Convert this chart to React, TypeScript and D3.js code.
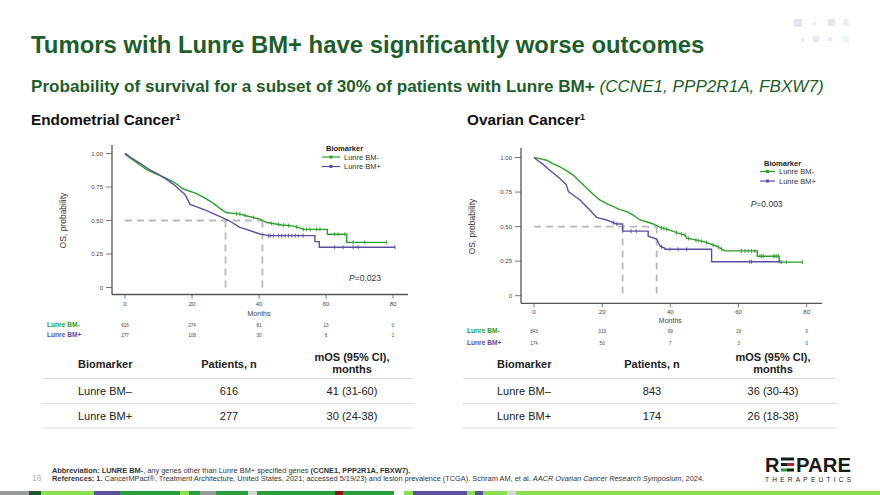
import React from "react";
import * as d3 from "d3";

// ---------- data ----------
const MONTH_TICKS = [0, 20, 40, 60, 80];
const PROB_TICKS = [0, 0.25, 0.5, 0.75, 1];
const PROB_LABELS = ["0", "0.25", "0.50", "0.75", "1.00"];
const SERIES_NAMES = ["Lunre BM-", "Lunre BM+"];

// Endometrial KM points [month, survival]
const endoMinus: [number, number][] = [
  [0, 1.0], [0.5, 0.985], [3, 0.94], [6.5, 0.88], [9, 0.85], [12.4, 0.815], [15, 0.78],
  [17.4, 0.735], [21.4, 0.7], [24, 0.665], [26.4, 0.628], [28.4, 0.59], [30.3, 0.558],
  [32, 0.555], [34.3, 0.548], [37, 0.53], [40.3, 0.51], [42.3, 0.485], [46.8, 0.466],
  [50, 0.46], [51.7, 0.449], [53.2, 0.434], [60.4, 0.434], [60.4, 0.397], [66.2, 0.397],
  [66.2, 0.337], [78.1, 0.337],
];
const endoPlus: [number, number][] = [
  [0, 1.0], [0.4, 0.995], [2, 0.965], [4.5, 0.927], [7.5, 0.877], [10, 0.845], [12.4, 0.807],
  [14.5, 0.77], [16.4, 0.728], [18, 0.69], [19.4, 0.62], [21, 0.605], [24.4, 0.573],
  [26.5, 0.55], [28.9, 0.524], [31, 0.5], [34.3, 0.449], [36, 0.435], [38.3, 0.416],
  [40.3, 0.399], [42.8, 0.387], [56.7, 0.387], [56.7, 0.342], [58, 0.342], [58, 0.3],
  [80.6, 0.3],
];
const endoMinusCensor = [33.3, 34.3, 35.8, 38.3, 43.8, 45.8, 47.3, 48.8, 51.2, 53.2, 54.2, 55.2, 57.2, 58.2, 62.6, 63.6, 65.6, 68.1, 71.6, 78.1];
const endoPlusCensor = [42.8, 43.3, 44.3, 45.8, 46.8, 47.8, 48.8, 49.8, 50.8, 51.7, 53.2, 62.6, 65.1, 68.1, 69.6, 80.6];
const endoRiskMinus = [616, 274, 81, 13, 0];
const endoRiskPlus = [277, 108, 30, 6, 1];
const endoMedians = [30, 41];

// Ovarian KM points
const ovaMinus: [number, number][] = [
  [0, 1.0], [2, 0.99], [3.7, 0.98], [5.5, 0.955], [7.6, 0.933], [9.5, 0.905], [11.5, 0.873],
  [13.5, 0.825], [15.5, 0.777], [17.5, 0.73], [19.4, 0.692], [21.5, 0.665], [23.3, 0.644],
  [25, 0.625], [27.2, 0.608], [29, 0.585], [31.1, 0.548], [33, 0.535], [35, 0.519],
  [37, 0.494], [39.9, 0.474], [42, 0.455], [44.3, 0.438], [44.8, 0.416], [47.7, 0.402],
  [50, 0.39], [53.6, 0.358], [56, 0.324], [65.5, 0.324], [65.5, 0.286], [71.9, 0.286],
  [71.9, 0.243], [78.8, 0.243],
];
const ovaPlus: [number, number][] = [
  [0, 1.0], [1, 0.98], [2.7, 0.95], [4, 0.92], [5.7, 0.886], [7, 0.86], [8.6, 0.825],
  [9.5, 0.8], [10.1, 0.753], [12, 0.72], [13.5, 0.692], [15, 0.655], [16.4, 0.62],
  [17.5, 0.59], [18.4, 0.567], [21.3, 0.548], [24.2, 0.519], [26, 0.519], [26, 0.467],
  [33.5, 0.467], [33.5, 0.43], [36, 0.41], [37, 0.358], [38.4, 0.343], [38.4, 0.336],
  [52.1, 0.336], [52.1, 0.246], [72.2, 0.246],
];
const ovaMinusCensor = [37.4, 38.1, 38.9, 41.8, 43.3, 44.3, 45.3, 47.5, 48.2, 49.2, 50.6, 52.6, 54.1, 55, 60.9, 61.9, 62.8, 63.8, 64.8, 66.3, 66.8, 67.3, 70.2, 70.7, 71.2, 71.7, 72.7, 74.1, 78.8];
const ovaPlusCensor = [23.3, 24.3, 28.5, 30, 37.4, 39.9, 42.3, 44.8, 63.3, 63.8, 72.2];
const ovaRiskMinus = [843, 319, 69, 19, 0];
const ovaRiskPlus = [174, 50, 7, 3, 0];
const ovaMedians = [26, 36];

// tables
const TABLE_HEAD = ["Biomarker", "Patients, n", "mOS (95% CI),", "months"];
const endoTable = [["Lunre BM–", "616", "41 (31-60)"], ["Lunre BM+", "277", "30 (24-38)"]];
const ovaTable = [["Lunre BM–", "843", "36 (30-43)"], ["Lunre BM+", "174", "26 (18-38)"]];

// bottom color bar [start, end, color]
const BAR_SEGMENTS: [number, number, string][] = [
  [0, 29, "#9a9a9a"], [29, 41, "#1e5631"], [41, 94, "#8ae04e"], [94, 120, "#5c4f9f"],
  [120, 180, "#2a9d3c"], [180, 189, "#8ae04e"], [189, 200, "#2a9d3c"], [200, 216, "#9a9a9a"],
  [216, 248, "#2a9d3c"], [248, 257, "#d4d4d4"], [257, 335, "#2a9d3c"], [335, 343, "#8e1016"],
  [343, 394, "#2a9d3c"], [404, 413, "#8ae04e"], [413, 467, "#5c4f9f"], [467, 475, "#8ae04e"],
  [475, 483, "#5c4f9f"], [483, 507, "#8ae04e"], [507, 516, "#d4d4d4"], [516, 880, "#8ae04e"],
];

// ---------- style ----------
const FONT = "'Liberation Sans', Arial, Helvetica, sans-serif";
const GREEN = "#2ca02c";
const PURPLE = "#5a4fa2";
const TITLE_GREEN = "#1d5e2b";
const AXIS = "#555";
const DASH = "#b8b8b8";

function survAt(data: [number, number][], t: number) {
  for (let i = data.length - 1; i >= 0; i--) {
    if (data[i][0] <= t) {
      const a = data[i];
      const b = data[i + 1];
      if (!b || b[0] === a[0]) return a[1];
      return a[1] + ((b[1] - a[1]) * (t - a[0])) / (b[0] - a[0]);
    }
  }
  return data[0][1];
}

type KMProps = {
  xr: [number, number];
  yr: [number, number];
  axisX: number;
  axisTop: number;
  axisY: number;
  axisRight: number;
  tickLabelY: number;
  monthsY: number;
  riskY: [number, number];
  riskLabelX: number;
  minus: [number, number][];
  plus: [number, number][];
  minusCensor: number[];
  plusCensor: number[];
  riskMinus: number[];
  riskPlus: number[];
  medians: number[];
  legend: { x: number; y: number; lineW: number };
  pText: string;
  pPos: [number, number];
};

function KM(p: KMProps) {
  const x = d3.scaleLinear().domain([0, 80]).range(p.xr);
  const y = d3.scaleLinear().domain([0, 1]).range(p.yr);
  const line = d3
    .line<[number, number]>()
    .x((d) => x(d[0]))
    .y((d) => y(d[1]));
  const curves = [
    { data: p.minus, cens: p.minusCensor, color: GREEN },
    { data: p.plus, cens: p.plusCensor, color: PURPLE },
  ];
  const medMax = d3.max(p.medians) as number;
  const lg = p.legend;
  return (
    <g fontFamily={FONT}>
      {/* median dashed lines */}
      <line x1={x(0)} x2={x(medMax)} y1={y(0.5)} y2={y(0.5)} stroke={DASH} strokeWidth={1.8} strokeDasharray="7 5" />
      {p.medians.map((m, i) => (
        <line key={i} x1={x(m)} x2={x(m)} y1={y(0.5)} y2={y(0)} stroke={DASH} strokeWidth={1.8} strokeDasharray="7 5" />
      ))}
      {/* axes */}
      <line x1={p.axisX} x2={p.axisX} y1={p.axisTop} y2={p.axisY} stroke={AXIS} strokeWidth={1.3} />
      <line x1={p.axisX} x2={p.axisRight} y1={p.axisY} y2={p.axisY} stroke={AXIS} strokeWidth={1.3} />
      {PROB_TICKS.map((t, i) => (
        <g key={i}>
          <line x1={p.axisX - 6} x2={p.axisX} y1={y(t)} y2={y(t)} stroke={AXIS} strokeWidth={0.8} />
          <text x={p.axisX - 9} y={y(t) + 2} fontSize={6} fill="#444" textAnchor="end">
            {PROB_LABELS[i]}
          </text>
        </g>
      ))}
      {MONTH_TICKS.map((t, i) => (
        <g key={i}>
          <line x1={x(t)} x2={x(t)} y1={p.axisY} y2={p.axisY + 4} stroke={AXIS} strokeWidth={0.8} />
          <text x={x(t)} y={p.tickLabelY} fontSize={6} fill="#444" textAnchor="middle">
            {t}
          </text>
          <text x={x(t)} y={p.riskY[0]} fontSize={4.6} fill="#444" textAnchor="middle">
            {p.riskMinus[i]}
          </text>
          <text x={x(t)} y={p.riskY[1]} fontSize={4.6} fill="#444" textAnchor="middle">
            {p.riskPlus[i]}
          </text>
        </g>
      ))}
      <text x={x(40)} y={p.monthsY} fontSize={7} fill="#444" textAnchor="middle">
        Months
      </text>
      <text x={p.riskLabelX} y={p.riskY[0]} fontSize={6.6} fontWeight="bold" fill={GREEN}>
        {SERIES_NAMES[0]}
      </text>
      <text x={p.riskLabelX} y={p.riskY[1]} fontSize={6.6} fontWeight="bold" fill={PURPLE}>
        {SERIES_NAMES[1]}
      </text>
      <text
        transform={`translate(${p.axisX - 46},${(y(0) + y(1)) / 2}) rotate(-90)`}
        fontSize={8.5}
        fill="#333"
        textAnchor="middle"
      >
        OS, probability
      </text>
      {/* curves */}
      {curves.map((c, i) => (
        <g key={i}>
          <path d={line(c.data) || ""} fill="none" stroke={c.color} strokeWidth={1.4} />
          {c.cens.map((t, j) => (
            <line key={j} x1={x(t)} x2={x(t)} y1={y(survAt(c.data, t)) - 2} y2={y(survAt(c.data, t)) + 2} stroke={c.color} strokeWidth={0.9} />
          ))}
        </g>
      ))}
      {/* legend */}
      <text x={lg.x + 4} y={lg.y} fontSize={7.5} fontWeight="bold" fill="#222">
        Biomarker
      </text>
      {[GREEN, PURPLE].map((col, i) => (
        <g key={i}>
          <line x1={lg.x} x2={lg.x + lg.lineW} y1={lg.y + 6 + i * 9.5} y2={lg.y + 6 + i * 9.5} stroke={col} strokeWidth={1.2} />
          <rect x={lg.x + lg.lineW / 2 - 1.5} y={lg.y + 4.5 + i * 9.5} width={3} height={3} fill={col} />
          <text x={lg.x + lg.lineW + 4} y={lg.y + 8.5 + i * 9.5} fontSize={7.5} fill="#333">
            {SERIES_NAMES[i]}
          </text>
        </g>
      ))}
      <text x={p.pPos[0]} y={p.pPos[1]} fontSize={8.5} fill="#333">
        <tspan fontStyle="italic">P</tspan>
        {p.pText}
      </text>
    </g>
  );
}

function Table({ x0, x1, cols, rows }: { x0: number; x1: number; cols: number[]; rows: string[][] }) {
  return (
    <g fontFamily={FONT} fill="#222">
      <text x={cols[0]} y={368} fontSize={11} fontWeight="bold">{TABLE_HEAD[0]}</text>
      <text x={cols[1]} y={368} fontSize={11} fontWeight="bold" textAnchor="middle">{TABLE_HEAD[1]}</text>
      <text x={cols[2]} y={360.5} fontSize={11} fontWeight="bold" textAnchor="middle">{TABLE_HEAD[2]}</text>
      <text x={cols[2]} y={373} fontSize={11} fontWeight="bold" textAnchor="middle">{TABLE_HEAD[3]}</text>
      {[378.5, 403.5, 428].map((yy, i) => (
        <line key={i} x1={x0} x2={x1} y1={yy} y2={yy} stroke="#dcdcdc" strokeWidth={1.2} />
      ))}
      {rows.map((r, i) => (
        <g key={i} fontSize={11}>
          <text x={cols[0]} y={395 + i * 24.5}>{r[0]}</text>
          <text x={cols[1]} y={395 + i * 24.5} textAnchor="middle">{r[1]}</text>
          <text x={cols[2]} y={395 + i * 24.5} textAnchor="middle">{r[2]}</text>
        </g>
      ))}
    </g>
  );
}

export default function App() {
  return (
    <svg width={880} height={495} style={{ position: "absolute", left: 0, top: 0, background: "#fff" }} fontFamily={FONT}>
      <defs>
        <linearGradient id="ul" x1="0" x2="1" y1="0" y2="0">
          <stop offset="0" stopColor="#7a7a7a" />
          <stop offset="1" stopColor="#e8e8e8" />
        </linearGradient>
      </defs>
      <rect x={0} y={0} width={880} height={495} fill="#fff" />
      {/* decorative squares */}
      <rect x={794} y={19} width={8} height={8} fill="#e6e4f1" />
      <rect x={813} y={22} width={3} height={3} fill="#eceaf4" />
      <rect x={828} y={19} width={7} height={7} fill="#e6e4f1" />
      <rect x={843} y={19} width={6} height={7} fill="#eef1ee" />
      <rect x={801} y={38} width={3} height={3} fill="#eceaf4" />
      <rect x={813} y={36} width={6} height={6} fill="#e8e6f2" />
      <rect x={828} y={37} width={4} height={4} fill="#eceaf4" />
      <rect x={843} y={36} width={6} height={7} fill="#ebf6ec" />

      {/* titles */}
      <text x={31} y={53} fontSize={23.9} fontWeight="bold" fill={TITLE_GREEN}>
        Tumors with Lunre BM+ have significantly worse outcomes
      </text>
      <line x1={31} x2={860} y1={61.7} y2={61.7} stroke="url(#ul)" strokeWidth={1.2} />
      <text x={31} y={92} fontSize={17.1} fill={TITLE_GREEN}>
        <tspan fontWeight="bold">Probability of survival for a subset of 30% of patients with Lunre BM+ </tspan>
        <tspan fontStyle="italic">(CCNE1, PPP2R1A, FBXW7)</tspan>
      </text>
      <text x={31} y={125} fontSize={15.3} fontWeight="bold" fill="#111">
        Endometrial Cancer<tspan fontSize={9} dy={-5}>1</tspan>
      </text>
      <text x={467} y={125} fontSize={15.3} fontWeight="bold" fill="#111">
        Ovarian Cancer<tspan fontSize={9} dy={-5}>1</tspan>
      </text>

      <KM
        xr={[125, 393]}
        yr={[287.5, 153.5]}
        axisX={112}
        axisTop={145}
        axisY={294.5}
        axisRight={408}
        tickLabelY={305.5}
        monthsY={315.5}
        riskY={[326.5, 336.5]}
        riskLabelX={47}
        minus={endoMinus}
        plus={endoPlus}
        minusCensor={endoMinusCensor}
        plusCensor={endoPlusCensor}
        riskMinus={endoRiskMinus}
        riskPlus={endoRiskPlus}
        medians={endoMedians}
        legend={{ x: 322, y: 151, lineW: 18 }}
        pText="=0.023"
        pPos={[349, 280.5]}
      />
      <KM
        xr={[534, 806.7]}
        yr={[295.7, 157.5]}
        axisX={521}
        axisTop={148}
        axisY={303.3}
        axisRight={822}
        tickLabelY={314}
        monthsY={323}
        riskY={[332.5, 344.5]}
        riskLabelX={467}
        minus={ovaMinus}
        plus={ovaPlus}
        minusCensor={ovaMinusCensor}
        plusCensor={ovaPlusCensor}
        riskMinus={ovaRiskMinus}
        riskPlus={ovaRiskPlus}
        medians={ovaMedians}
        legend={{ x: 760, y: 165.5, lineW: 15 }}
        pText="=0.003"
        pPos={[750.7, 207]}
      />

      <Table x0={43} x1={413} cols={[78, 229, 352]} rows={endoTable} />
      <Table x0={463} x1={836} cols={[497, 652, 773]} rows={ovaTable} />

      {/* footer */}
      <text x={32} y={480.5} fontSize={8.5} fill="#b0b0b0">16</text>
      <text x={52} y={472.5} fontSize={7.4} fill="#333">
        <tspan fontWeight="bold">Abbreviation: LUNRE BM-</tspan>
        <tspan>, any genes other than Lunre BM+ specified genes </tspan>
        <tspan fontWeight="bold">(CCNE1, PPP2R1A, FBXW7).</tspan>
      </text>
      <text x={52} y={480.5} fontSize={7.4} fill="#333">
        <tspan fontWeight="bold">References:  1. </tspan>
        <tspan>CancerMPact®, Treatment Architecture, United States, 2021; accessed 5/19/23) and lesion prevalence (TCGA). Schram AM, et al. </tspan>
        <tspan fontStyle="italic">AACR Ovarian Cancer Research Symposium</tspan>
        <tspan>, 2024.</tspan>
      </text>

      {/* logo */}
      <text x={765} y={472} fontSize={20} fontWeight="bold" fill="#1a1a1a">R</text>
      <rect x={781} y={457.5} width={13} height={3} fill="#1a1a1a" />
      <rect x={781} y={463} width={6} height={3} fill="#1a1a1a" />
      <rect x={787} y={463} width={7} height={3} fill="#c0202a" />
      <rect x={781} y={468.5} width={6} height={3} fill="#2a9d3c" />
      <rect x={787} y={468.5} width={7} height={3} fill="#1a1a1a" />
      <text x={796} y={472} fontSize={20} fontWeight="bold" fill="#1a1a1a" textLength={55} lengthAdjust="spacingAndGlyphs">PARE</text>
      <text x={765} y={481.5} fontSize={6.5} fill="#1a1a1a" textLength={86} lengthAdjust="spacing">THERAPEUTICS</text>

      {/* bottom bar */}
      {BAR_SEGMENTS.map((s, i) => (
        <rect key={i} x={s[0]} y={491} width={s[1] - s[0]} height={4} fill={s[2]} />
      ))}
    </svg>
  );
}
